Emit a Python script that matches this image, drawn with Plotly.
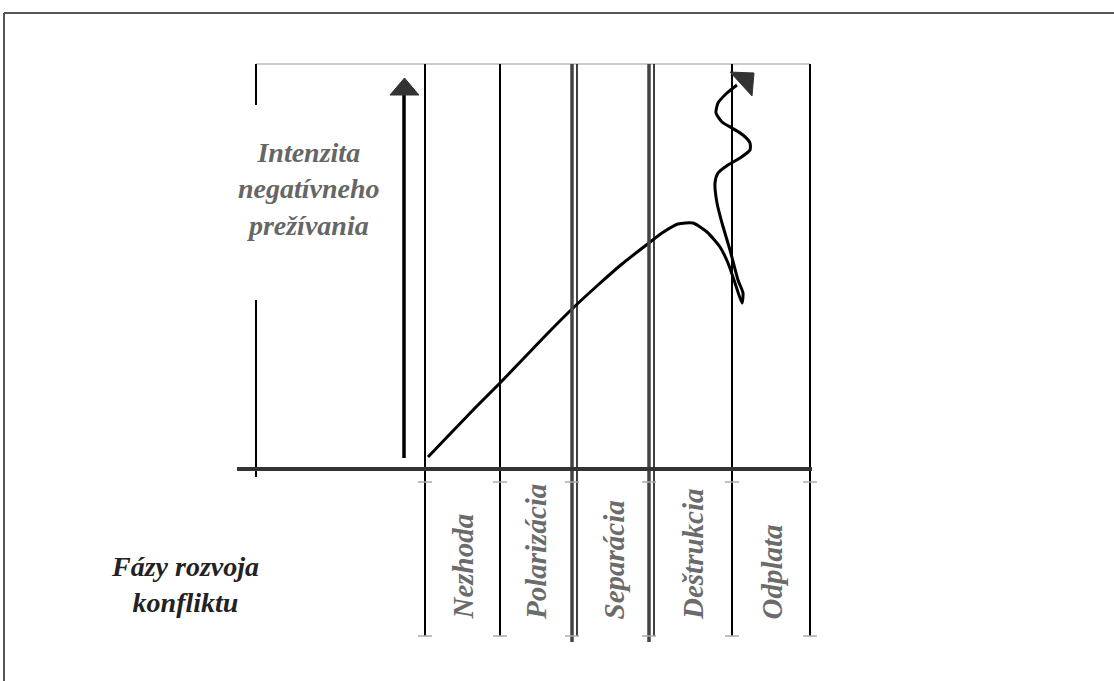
import plotly.graph_objects as go

# ---------------- data ----------------
phases = ["Nezhoda", "Polarizácia", "Separácia", "Deštrukcia", "Odplata"]
# phase boundaries along the horizontal axis (diagram units)
boundaries = [425, 500, 572, 649, 732, 810]
double_line = [False, False, True, True, False, False]

# intensity curve (diagram units, y grows downward)
curve_x = [428, 450, 475, 500, 524, 548, 572, 598, 622, 645, 662, 678, 693, 707,
           720, 728, 735, 742, 743, 738, 730, 722, 717, 715, 718, 728, 740, 750,
           750, 743, 732, 722, 716, 718, 727, 737]
curve_y = [457, 434, 408, 383, 358, 333, 309, 285, 264, 246, 233, 224, 223, 232,
           247, 263, 283, 303, 293, 280, 250, 223, 203, 183, 173, 165, 158, 150,
           143, 135, 128, 122, 113, 103, 93, 85]

y_title = "Intenzita<br>negatívneho<br>prežívania"
x_title = "Fázy rozvoja<br>konfliktu"

W, H = 1114, 681
axis_y = 469
top_y = 64
bottom_y = 636

fig = go.Figure()

fig.add_trace(go.Scatter(x=curve_x, y=curve_y, mode="lines",
                         line=dict(color="black", width=3, shape="spline", smoothing=0.6),
                         hoverinfo="skip", showlegend=False))

shapes = []
# frame
shapes.append(dict(type="line", x0=4, x1=W, y0=13, y1=13, line=dict(color="#555", width=2)))
shapes.append(dict(type="line", x0=4, x1=4, y0=13, y1=H, line=dict(color="#555", width=2)))
# top thin line
shapes.append(dict(type="line", x0=256, x1=boundaries[-1], y0=top_y, y1=top_y,
                   line=dict(color="#bbbbbb", width=1.5)))
# left line segments
shapes.append(dict(type="line", x0=256, x1=256, y0=top_y, y1=105, line=dict(color="black", width=2)))
shapes.append(dict(type="line", x0=256, x1=256, y0=300, y1=477, line=dict(color="black", width=2)))

for b, dbl in zip(boundaries, double_line):
    if dbl:
        shapes.append(dict(type="line", x0=b, x1=b, y0=top_y, y1=bottom_y + 6,
                           line=dict(color="#444", width=3.5)))
        shapes.append(dict(type="line", x0=b + 5, x1=b + 5, y0=top_y, y1=bottom_y,
                           line=dict(color="black", width=1.5)))
    else:
        shapes.append(dict(type="line", x0=b, x1=b, y0=top_y, y1=bottom_y,
                           line=dict(color="black", width=2)))
    for ty in (482, bottom_y):
        shapes.append(dict(type="line", x0=b - 7, x1=b + 7, y0=ty, y1=ty,
                           line=dict(color="#aaaaaa", width=1.5)))

# horizontal axis
shapes.append(dict(type="line", x0=237, x1=812, y0=axis_y, y1=axis_y,
                   line=dict(color="#333", width=4)))
# vertical arrow
shapes.append(dict(type="line", x0=404, x1=404, y0=458, y1=94, line=dict(color="black", width=3.5)))
shapes.append(dict(type="path", path="M 390 95 L 419 95 L 404.5 78 Z",
                   fillcolor="#333", line=dict(color="#333", width=1)))
# curve arrowhead
shapes.append(dict(type="path", path="M 730 72 L 754 73 L 752 96 Z",
                   fillcolor="#333", line=dict(color="#333", width=1)))

annotations = []
annotations.append(dict(x=309, y=189, text=y_title, showarrow=False,
                        font=dict(family="Liberation Serif", size=28, color="#666666",
                                  weight="bold", style="italic"),
                        xanchor="center", yanchor="middle", align="center"))
annotations.append(dict(x=185, y=584, text=x_title, showarrow=False,
                        font=dict(family="Liberation Serif", size=28, color="#222222",
                                  weight="bold", style="italic"),
                        xanchor="center", yanchor="middle", align="center"))

for i, name in enumerate(phases):
    left = boundaries[i] + (5 if double_line[i] else 0)
    right = boundaries[i + 1]
    annotations.append(dict(x=(left + right) / 2, y=622, text=name, showarrow=False,
                            textangle=-90, xanchor="center", yanchor="bottom",
                            font=dict(family="Liberation Serif", size=29, color="#6b6b6b",
                                      weight="bold", style="italic")))

fig.update_layout(
    width=W, height=H,
    margin=dict(l=0, r=0, t=0, b=0),
    paper_bgcolor="white", plot_bgcolor="white",
    xaxis=dict(range=[0, W], visible=False, fixedrange=True),
    yaxis=dict(range=[H, 0], visible=False, fixedrange=True),
    shapes=shapes, annotations=annotations,
    showlegend=False,
)

fig.write_html("out.html", config={"displayModeBar": False},
               post_script="document.body.style.margin='0';")
